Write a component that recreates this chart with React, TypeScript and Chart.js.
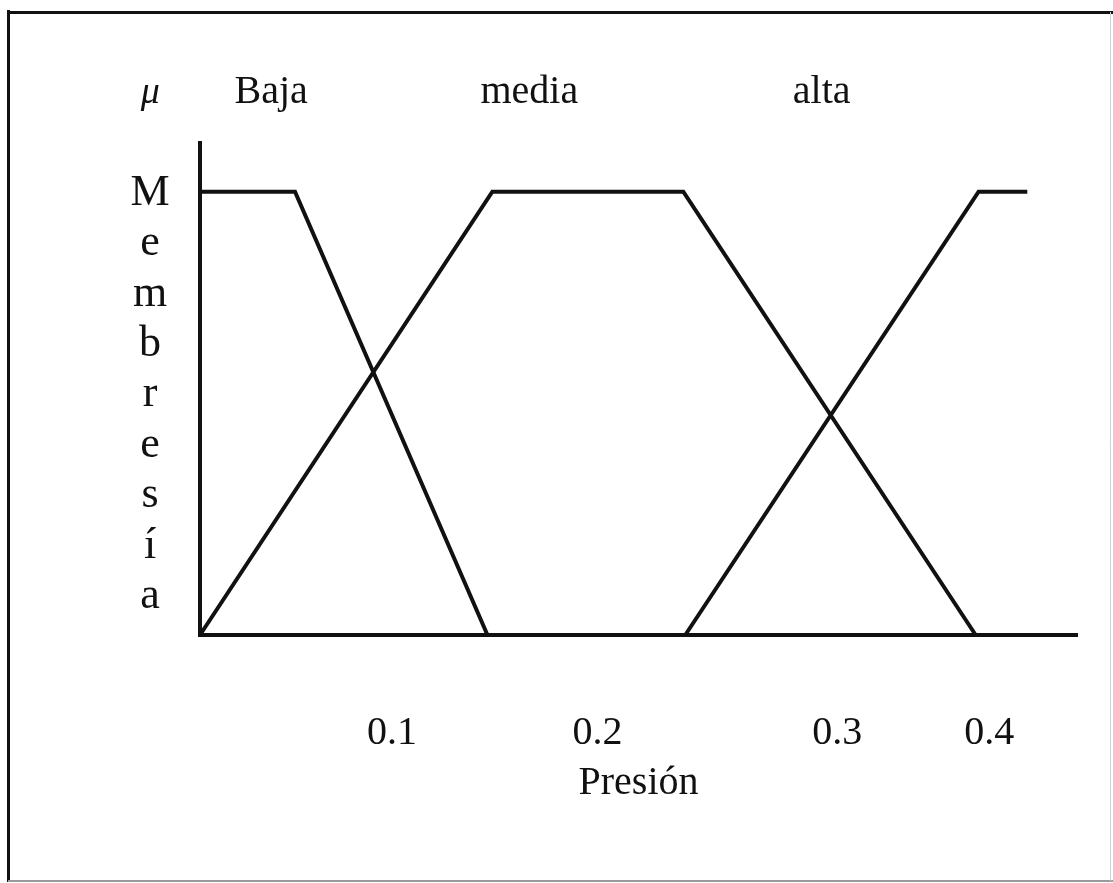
import React, { useEffect, useRef } from "react";
import { Chart, registerables } from "chart.js";

Chart.register(...registerables);

// ---- data (x in abstract pressure units of the sketch, y = membership) ----
const X_MIN = 0;
const X_MAX = 9;
const Y_MIN = 0;
const Y_MAX = 1.11;

const bajaX = [0, 0.975, 2.95];
const bajaY = [1, 1, 0];
const mediaX = [0, 3.0, 4.96, 7.96];
const mediaY = [0, 1, 1, 0];
const altaX = [4.98, 7.99, 8.49];
const altaY = [0, 1, 1];

const TICK_VALUES = [1.97, 4.08, 6.54, 8.1];
const TICK_LABELS = ["0.1", "0.2", "0.3", "0.4"];

const SERIES_NAMES = ["Baja", "media", "alta"];
const SERIES_LABEL_X = [0.73, 3.38, 6.38];
const MU_LABEL = "\u03BC";
const MU_X = -0.51;

const X_TITLE = "Presión";
const Y_TITLE = "Membresía";

const FONT = "'Liberation Serif', 'Times New Roman', serif";

const toPoints = (xs: number[], ys: number[]) => xs.map((x, i) => ({ x, y: ys[i] }));

const decorPlugin = {
  id: "decor",
  beforeDraw(chart: any) {
    const ctx = chart.ctx;
    ctx.save();
    ctx.fillStyle = "#fff";
    ctx.fillRect(0, 0, chart.width, chart.height);
    ctx.restore();
  },
  afterDraw(chart: any) {
    const ctx = chart.ctx;
    const xs = chart.scales.x;
    const ys = chart.scales.y;
    const area = chart.chartArea;
    ctx.save();

    // frame of the scanned figure
    ctx.lineCap = "butt";
    ctx.strokeStyle = "#111";
    ctx.lineWidth = 3;
    ctx.beginPath();
    ctx.moveTo(8.5, 10);
    ctx.lineTo(8.5, 882);
    ctx.moveTo(7, 12.5);
    ctx.lineTo(chart.width, 12.5);
    ctx.stroke();
    ctx.strokeStyle = "#9a9a9a";
    ctx.lineWidth = 2;
    ctx.beginPath();
    ctx.moveTo(8, 881);
    ctx.lineTo(chart.width, 881);
    ctx.stroke();
    ctx.strokeStyle = "#d0d0d0";
    ctx.lineWidth = 1;
    ctx.beginPath();
    ctx.moveTo(1110.5, 12);
    ctx.lineTo(1110.5, 881);
    ctx.stroke();

    // series names above the plot
    ctx.fillStyle = "#111";
    ctx.textAlign = "center";
    ctx.textBaseline = "alphabetic";
    const labelBaseline = area.top - 40;
    ctx.font = `40px ${FONT}`;
    SERIES_NAMES.forEach((name, i) => {
      ctx.fillText(name, xs.getPixelForValue(SERIES_LABEL_X[i]), labelBaseline);
    });
    ctx.font = `italic 38px ${FONT}`;
    ctx.fillText(MU_LABEL, xs.getPixelForValue(MU_X), labelBaseline);

    // vertical stacked y title
    const letters = Array.from(Y_TITLE);
    const first = ys.getPixelForValue(1) + 13;
    const last = ys.getPixelForValue(0) - 27;
    const step = (last - first) / (letters.length - 1);
    ctx.font = `44px ${FONT}`;
    const cx = area.left - 50;
    letters.forEach((ch, i) => {
      ctx.fillText(ch, cx, first + i * step);
    });

    ctx.restore();
  },
};

export default function App() {
  const canvasRef = useRef<HTMLCanvasElement | null>(null);

  useEffect(() => {
    if (!canvasRef.current) return;
    const lineStyle = {
      borderColor: "#111",
      borderWidth: 4,
      pointRadius: 0,
      pointHoverRadius: 0,
      tension: 0,
      fill: false,
      clip: false as any,
      borderJoinStyle: "miter" as const,
    };
    const chart = new Chart(canvasRef.current, {
      type: "line",
      data: {
        datasets: [
          { label: SERIES_NAMES[0], data: toPoints(bajaX, bajaY), ...lineStyle },
          { label: SERIES_NAMES[1], data: toPoints(mediaX, mediaY), ...lineStyle },
          { label: SERIES_NAMES[2], data: toPoints(altaX, altaY), ...lineStyle },
        ],
      },
      options: {
        responsive: false,
        animation: false,
        devicePixelRatio: 1,
        layout: { padding: { top: 143, right: 36, bottom: 0, left: 0 } },
        plugins: {
          legend: { display: false },
          tooltip: { enabled: false },
          title: { display: false },
        },
        scales: {
          x: {
            type: "linear",
            min: X_MIN,
            max: X_MAX,
            grid: { display: false, drawTicks: false },
            border: { display: true, color: "#111", width: 4 },
            afterBuildTicks: (scale: any) => {
              scale.ticks = TICK_VALUES.map((v) => ({ value: v }));
            },
            ticks: {
              autoSkip: false,
              maxRotation: 0,
              minRotation: 0,
              padding: 74,
              color: "#111",
              font: { family: FONT, size: 40 },
              callback: (_v: any, i: number) => TICK_LABELS[i],
            },
            title: {
              display: true,
              text: X_TITLE,
              color: "#111",
              font: { family: FONT, size: 40 },
              padding: { top: 0, bottom: 76 },
            },
            afterFit: (scale: any) => {
              scale.height = 248;
            },
          },
          y: {
            type: "linear",
            min: Y_MIN,
            max: Y_MAX,
            grid: { display: false, drawTicks: false },
            border: { display: true, color: "#111", width: 4 },
            ticks: { display: false },
            afterFit: (scale: any) => {
              scale.width = 200;
            },
          },
        },
      },
      plugins: [decorPlugin],
    });
    return () => chart.destroy();
  }, []);

  return (
    <div style={{ position: "absolute", left: 0, top: 0, width: 1113, height: 883, background: "#fff" }}>
      <canvas ref={canvasRef} width={1113} height={883} style={{ display: "block" }} />
    </div>
  );
}
